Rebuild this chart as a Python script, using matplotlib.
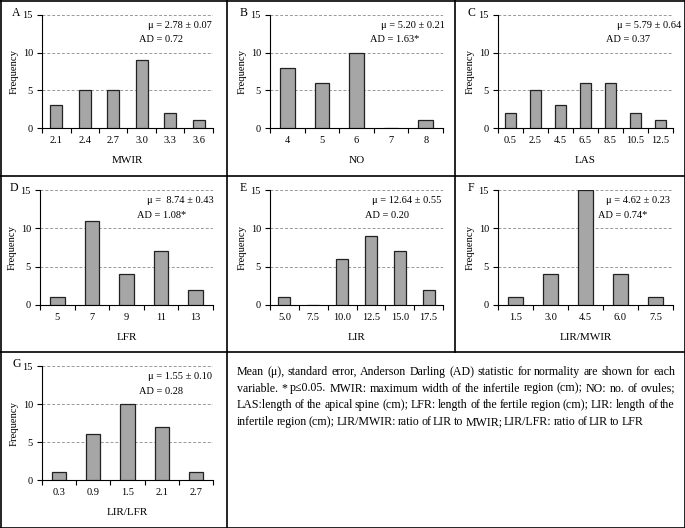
import matplotlib
matplotlib.use('Agg')
import matplotlib.pyplot as plt
from matplotlib.lines import Line2D
from matplotlib.font_manager import FontProperties

plt.rcParams['font.family'] = ['Liberation Serif', 'DejaVu Serif']

W, H = 685, 528

# panel data
mwir_bins = ['2.1', '2.4', '2.7', '3.0', '3.3', '3.6']
mwir_freq = [3, 5, 5, 9, 2, 1]
no_bins = ['4', '5', '6', '7', '8']
no_freq = [8, 6, 10, 0, 1]
las_bins = ['0.5', '2.5', '4.5', '6.5', '8.5', '10.5', '12.5']
las_freq = [2, 5, 3, 6, 6, 2, 1]
lfr_bins = ['5', '7', '9', '11', '13']
lfr_freq = [1, 11, 4, 7, 2]
lir_bins = ['5.0', '7.5', '10.0', '12.5', '15.0', '17.5']
lir_freq = [1, 0, 6, 9, 7, 2]
lir_mwir_bins = ['1.5', '3.0', '4.5', '6.0', '7.5']
lir_mwir_freq = [1, 4, 15, 4, 1]
lir_lfr_bins = ['0.3', '0.9', '1.5', '2.1', '2.7']
lir_lfr_freq = [1, 6, 10, 7, 1]

letters = ['A', 'B', 'C', 'D', 'E', 'F', 'G']
xlabels = ['MWIR', 'NO', 'LAS', 'LFR', 'LIR', 'LIR/MWIR', 'LIR/LFR']
mu_text = ['\u03bc = 2.78 \u00b1 0.07', '\u03bc = 5.20 \u00b1 0.21', '\u03bc = 5.79 \u00b1 0.64',
           '\u03bc =  8.74 \u00b1 0.43', '\u03bc = 12.64 \u00b1 0.55', '\u03bc = 4.62 \u00b1 0.23',
           '\u03bc = 1.55 \u00b1 0.10']
ad_text = ['AD = 0.72', 'AD = 1.63*', 'AD = 0.37', 'AD = 1.08*', 'AD = 0.20',
           'AD = 0.74*', 'AD = 0.28']

caption = [
    'Mean (\u03bc), standard error, Anderson Darling (AD) statistic for normality are shown for each',
    'variable. * p\u22640.05. MWIR: maximum width of the infertile region (cm); NO: no. of ovules;',
    'LAS:length of the apical spine (cm); LFR: length of the fertile region (cm); LIR: length of the',
    'infertile region (cm); LIR/MWIR:  ratio of LIR to MWIR; LIR/LFR: ratio of LIR to LFR',
]

bins = [mwir_bins, no_bins, las_bins, lfr_bins, lir_bins, lir_mwir_bins, lir_lfr_bins]
freqs = [mwir_freq, no_freq, las_freq, lfr_freq, lir_freq, lir_mwir_freq, lir_lfr_freq]

# axes boxes in pixels (left, top, right, bottom)
boxes = [(42, 15, 213, 128), (270, 15, 443, 128), (498, 15, 673, 128),
         (40, 190, 213, 305), (270, 190, 443, 305), (498, 190, 673, 305),
         (42, 366, 213, 480)]
text_pos = [(0.62, 0.57), (0.64, 0.58), (0.68, 0.62), (0.62, 0.56),
            (0.59, 0.55), (0.62, 0.57), (0.62, 0.57)]

fig = plt.figure(figsize=(W / 100, H / 100), dpi=100)


def px_rect(b):
    l, t, r, bt = b
    return [l / W, 1 - bt / H, (r - l) / W, (bt - t) / H]


for i in range(7):
    ax = fig.add_axes(px_rect(boxes[i]))
    n = len(bins[i])
    xs = list(range(n))
    ax.bar(xs, freqs[i], width=0.42, color='#a6a6a6', edgecolor='#222222',
           linewidth=0.9, zorder=3)
    ax.set_xlim(-0.5, n - 0.5)
    ax.set_ylim(0, 15)
    ax.set_yticks([0, 5, 10, 15])
    ax.set_yticklabels(['0', '5', '10', '15'], fontsize=7.5)
    ax.set_xticks([k - 0.5 for k in range(n + 1)])
    ax.set_xticklabels([])
    ax.set_xticks(xs, minor=True)
    ax.set_xticklabels(bins[i], minor=True, fontsize=7.5)
    ax.tick_params(axis='x', which='minor', length=0, pad=6)
    ax.tick_params(axis='x', which='major', length=3.5, width=0.8, direction='out')
    ax.tick_params(axis='y', length=3.5, width=0.8, pad=3)
    for y in [5, 10, 15]:
        ax.axhline(y, color='#999999', linestyle=(0, (3, 2)), linewidth=0.7, zorder=1)
    ax.spines['top'].set_visible(False)
    ax.spines['right'].set_visible(False)
    ax.spines['left'].set_linewidth(0.8)
    ax.spines['bottom'].set_linewidth(0.8)
    ax.set_ylabel('Frequency', fontsize=7.7, labelpad=2.5)
    ax.set_xlabel(xlabels[i], fontsize=8, labelpad=8)
    tx, ax_x = text_pos[i]
    ax.text(tx, 0.91, mu_text[i], transform=ax.transAxes, fontsize=7.5,
            ha='left', va='center')
    ax.text(ax_x, 0.78, ad_text[i], transform=ax.transAxes, fontsize=7.5,
            ha='left', va='center')
    lx = boxes[i][0] - 30
    ly = boxes[i][1] - 2
    fig.text(lx / W, 1 - ly / H, letters[i], fontsize=8.5, ha='left', va='center')

# frame lines
line_kw = dict(color='black', linewidth=1.2, transform=fig.transFigure)
for y in [0.5, 176, 352, 527.5]:
    fig.add_artist(Line2D([0, 1], [1 - y / H, 1 - y / H], **line_kw))
for x in [0.5, 684.5]:
    fig.add_artist(Line2D([x / W, x / W], [0, 1], **line_kw))
for x in [227, 455]:
    fig.add_artist(Line2D([x / W, x / W], [1 - 352 / H, 1], **line_kw))
fig.add_artist(Line2D([227 / W, 227 / W], [0, 1 - 352 / H], **line_kw))

# justified caption, last line set a bit tighter as in the original
fig.canvas.draw()
renderer = fig.canvas.get_renderer()
left_px = 237
line_right = [675, 675, 675, 643]
line_y = [372, 388.5, 405, 422]
cap_size = 8.6
fp = FontProperties(family=['Liberation Serif'], size=cap_size)
for li, line in enumerate(caption):
    y = 1 - line_y[li] / H
    words = line.split()
    widths = [renderer.get_text_width_height_descent(w, fp, ismath=False)[0] for w in words]
    gap = (line_right[li] - left_px - sum(widths)) / (len(words) - 1)
    x = left_px
    for w, wd in zip(words, widths):
        fig.text(x / W, y, w, fontproperties=fp, ha='left', va='center')
        x += wd + gap

fig.savefig('out.png', dpi=100)
